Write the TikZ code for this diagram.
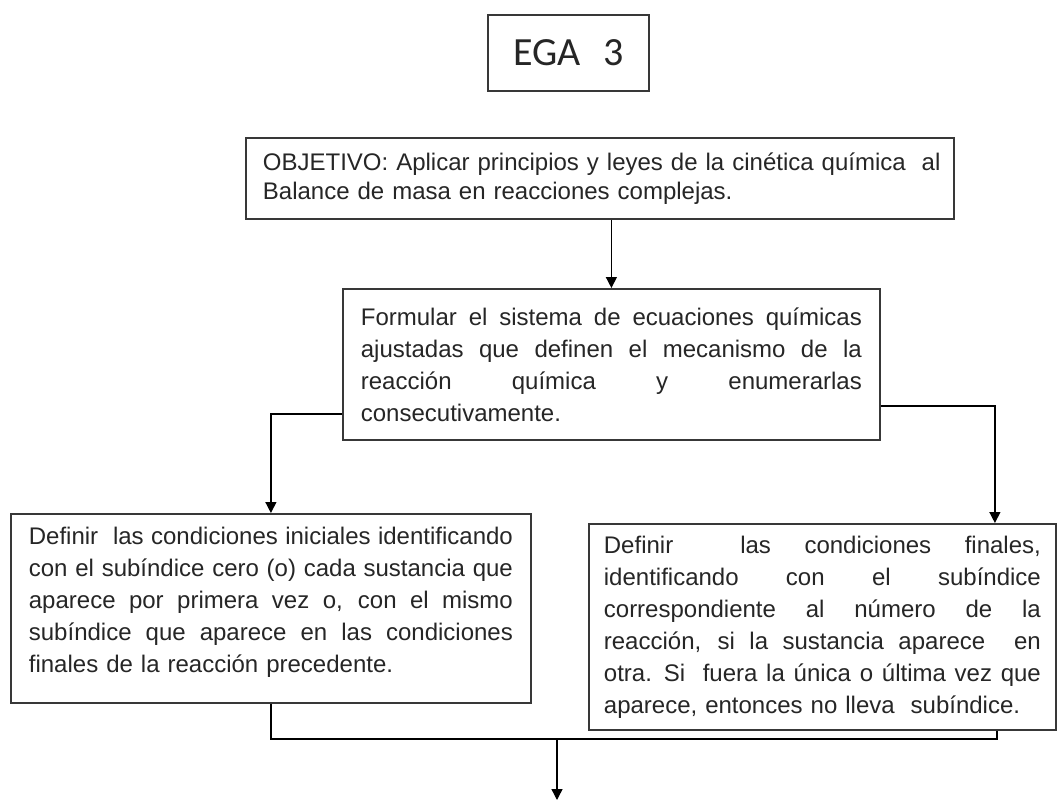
\documentclass[tikz,border=0pt]{standalone}
\usepackage{fontspec}
\setmainfont{Liberation Sans}
\newfontfamily\egafont{Carlito}
\usetikzlibrary{arrows.meta}
\newcommand\fl[2]{\leavevmode\hbox to #1{\spaceskip=0.278em plus 1fil minus 0.06em\relax #2}}
\begin{document}
\begin{tikzpicture}[x=1pt,y=-1pt,
  box/.style={draw=black!78, line width=1.8pt, fill=white, anchor=north west,
    inner ysep=0pt, text=black!85, font=\fontsize{24}{32}\selectfont, align=left},
  conn/.style={line width=1.4pt, draw=black},
  arr/.style={conn, -{Triangle[width=11pt,length=11pt]}}]
\fill[white] (0,0) rectangle (1057,800);
\useasboundingbox (0,0) rectangle (1057,800);

\node[box, anchor=center, minimum width=161pt, minimum height=76pt, inner sep=0pt,
  font=\egafont\fontsize{40}{44}\selectfont] (ega) at (568.5,53) {EGA\hspace{22pt}3};

\node[box, minimum width=708pt, minimum height=81pt, text width=674pt, inner xsep=17pt,
  font=\fontsize{24}{29}\selectfont] (obj) at (245,137)
  {\noindent\mbox{OBJETIVO: Aplicar principios y leyes de la cinética química\ \ al}\\
   Balance de masa en reacciones complejas.};

\node[box, minimum width=537pt, minimum height=151pt, text width=501pt, inner xsep=18pt]
  (box2) at (342,288)
  {\fl{501pt}{Formular el sistema de ecuaciones químicas}\\
   \fl{501pt}{ajustadas que definen el mecanismo de la}\\
   \fl{501pt}{reacción química y enumerarlas}\\
   consecutivamente.};

\node[box, minimum width=520pt, minimum height=189pt, text width=484pt, inner xsep=18pt]
  (left) at (10,513)
  {\fl{484pt}{Definir\ \ las condiciones iniciales identificando}\\
   \fl{484pt}{con el subíndice cero (o) cada sustancia que}\\
   \fl{484pt}{aparece por primera vez o, con el mismo}\\
   \fl{484pt}{subíndice que aparece en las condiciones}\\
   finales de la reacción precedente.\rule[-18pt]{0pt}{18pt}};

\node[box, minimum width=467pt, minimum height=206pt, text width=437pt, inner xsep=15pt]
  (right) at (588,523)
  {\fl{437pt}{Definir\ \ las condiciones finales,}\\
   \fl{437pt}{identificando con el subíndice}\\
   \fl{437pt}{correspondiente al número de la}\\
   \fl{437pt}{reacción, si la sustancia aparece\ \ en}\\
   \fl{437pt}{otra. Si\ \ fuera la única o última vez que}\\
   aparece, entonces no lleva\ \ subíndice.};

\coordinate (j) at (557,739);
\coordinate (e) at (557,800);

\draw[arr] (obj.south -| box2.north) -- (box2.north);
\draw[arr] ([yshift=-49.5pt]box2.west) -| (left.north);
\draw[arr] ([yshift=-41.5pt]box2.east) -| ([xshift=172.5pt]right.north);
\draw[conn] (left.south) |- (j);
\draw[conn] ([xshift=174.5pt]right.south) |- (j);
\draw[arr] (j) -- (e);
\end{tikzpicture}
\end{document}
